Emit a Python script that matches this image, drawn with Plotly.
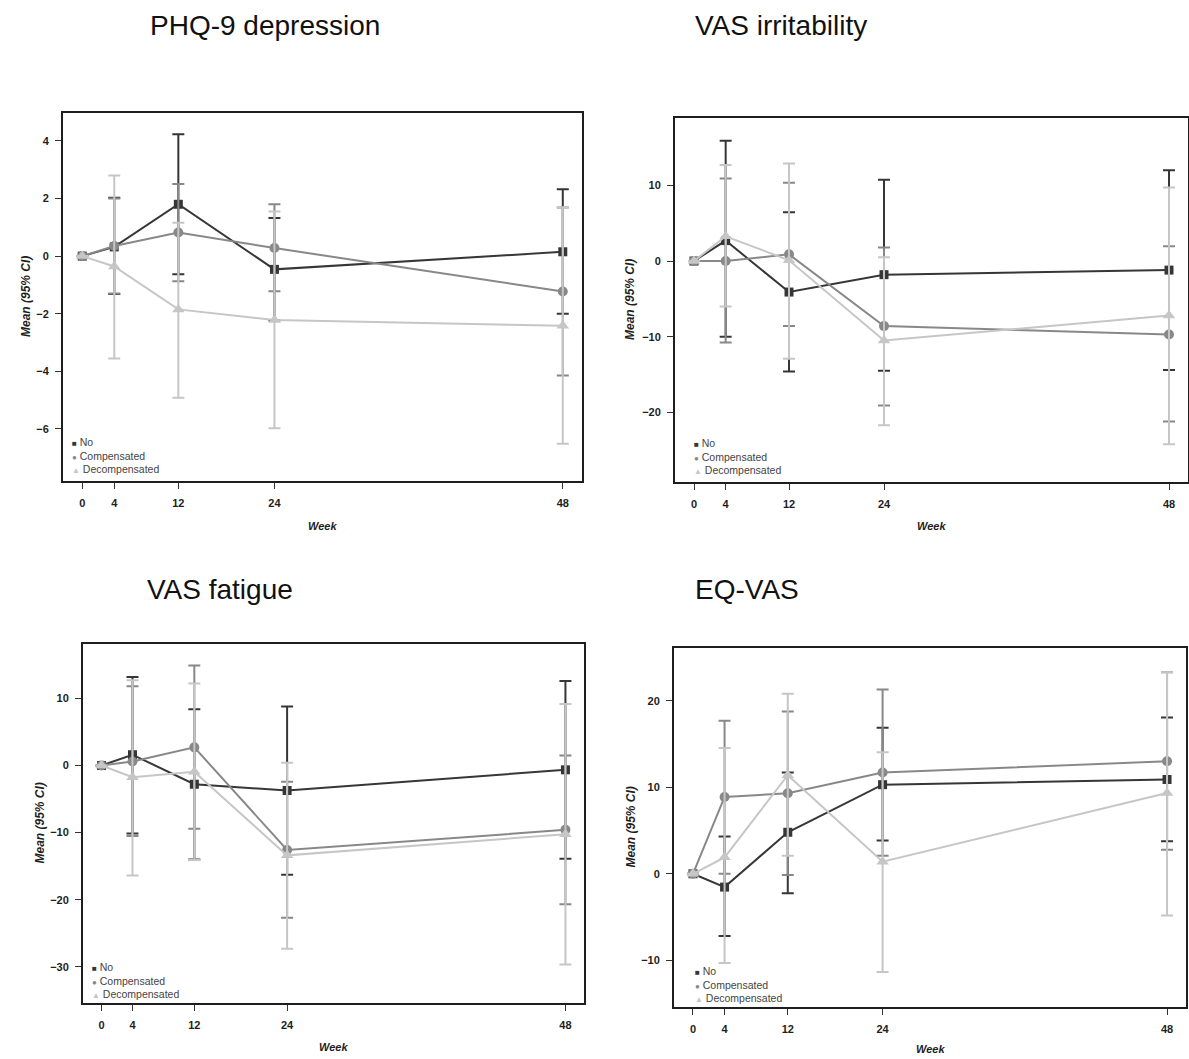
import plotly.graph_objects as go

# ---------------- data ----------------
week_labels = ["0", "4", "12", "24", "48"]
visit_scale = [0, 4, 12, 24, 60]   # x value at which each visit is plotted on the chart
groups = ["No", "Compensated", "Decompensated"]
panel_titles = ["PHQ-9 depression", "VAS irritability", "VAS fatigue", "EQ-VAS"]

# PHQ-9 depression
phq_no_mean = [0, 0.32, 1.80, -0.46, 0.15]
phq_no_lo = [0, -1.32, -0.63, -2.24, -2.00]
phq_no_hi = [0, 2.03, 4.23, 1.32, 2.32]
phq_comp_mean = [0, 0.35, 0.82, 0.28, -1.23]
phq_comp_lo = [0, -1.30, -0.87, -1.22, -4.15]
phq_comp_hi = [0, 2.00, 2.50, 1.80, 1.69]
phq_dec_mean = [0, -0.36, -1.85, -2.22, -2.42]
phq_dec_lo = [0, -3.56, -4.92, -5.98, -6.52]
phq_dec_hi = [0, 2.80, 1.16, 1.55, 1.70]

# VAS irritability
irr_no_mean = [0, 2.7, -4.1, -1.8, -1.2]
irr_no_lo = [0, -10.0, -14.6, -14.5, -14.4]
irr_no_hi = [0, 15.9, 6.46, 10.75, 12.0]
irr_comp_mean = [0, 0.0, 0.88, -8.6, -9.7]
irr_comp_lo = [0, -10.75, -8.6, -19.1, -21.2]
irr_comp_hi = [0, 10.9, 10.35, 1.8, 1.95]
irr_dec_mean = [0, 3.27, 0.1, -10.5, -7.2]
irr_dec_lo = [0, -6.0, -12.9, -21.7, -24.2]
irr_dec_hi = [0, 12.7, 12.9, 0.49, 9.7]

# VAS fatigue
fat_no_mean = [0, 1.6, -2.8, -3.73, -0.65]
fat_no_lo = [0, -10.15, -14.0, -16.3, -13.9]
fat_no_hi = [0, 13.2, 8.36, 8.8, 12.6]
fat_comp_mean = [0, 0.6, 2.7, -12.6, -9.6]
fat_comp_lo = [0, -10.5, -9.45, -22.7, -20.7]
fat_comp_hi = [0, 11.8, 14.9, -2.44, 1.5]
fat_dec_mean = [0, -1.74, -0.95, -13.4, -10.25]
fat_dec_lo = [0, -16.4, -14.1, -27.3, -29.65]
fat_dec_hi = [0, 12.7, 12.2, 0.4, 9.15]

# EQ-VAS
eq_no_mean = [0, -1.54, 4.8, 10.3, 10.9]
eq_no_lo = [0, -7.2, -2.24, 3.86, 3.75]
eq_no_hi = [0, 4.3, 11.7, 16.87, 18.07]
eq_comp_mean = [0, 8.88, 9.3, 11.7, 13.0]
eq_comp_lo = [0, 0.0, -0.15, 2.08, 2.78]
eq_comp_hi = [0, 17.7, 18.75, 21.3, 23.3]
eq_dec_mean = [0, 1.9, 11.4, 1.39, 9.34]
eq_dec_lo = [0, -10.3, 2.08, -11.35, -4.83]
eq_dec_hi = [0, 14.55, 20.8, 14.05, 23.3]

panels = [
    [(phq_no_mean, phq_no_lo, phq_no_hi), (phq_comp_mean, phq_comp_lo, phq_comp_hi), (phq_dec_mean, phq_dec_lo, phq_dec_hi)],
    [(irr_no_mean, irr_no_lo, irr_no_hi), (irr_comp_mean, irr_comp_lo, irr_comp_hi), (irr_dec_mean, irr_dec_lo, irr_dec_hi)],
    [(fat_no_mean, fat_no_lo, fat_no_hi), (fat_comp_mean, fat_comp_lo, fat_comp_hi), (fat_dec_mean, fat_dec_lo, fat_dec_hi)],
    [(eq_no_mean, eq_no_lo, eq_no_hi), (eq_comp_mean, eq_comp_lo, eq_comp_hi), (eq_dec_mean, eq_dec_lo, eq_dec_hi)],
]

# ---------------- styling ----------------
W, H = 1189, 1059
colors = ["#363636", "#888888", "#c6c6c6"]
symbols = ["square", "circle", "triangle-up"]
msizes = [9, 10, 11]
glyphs = ["\u25A0", "\u25CF", "\u25B2"]
FONT = "Liberation Sans, Arial, sans-serif"

# plot boxes in pixels: (left, right, top, bottom)
boxes = [(63, 582, 113, 481), (675, 1188, 118, 482), (83, 584, 644, 1003), (674, 1186, 648, 1007)]
yranges = [[-7.81, 4.97], [-29.2, 18.9], [-35.4, 18.1], [-15.4, 26.1]]
ydticks = [2, 10, 10, 10]
title_pos = [(148, 25), (693, 25), (145, 589), (693, 589)]
ylab_x = [26, 630, 39, 630]
week_y = [526, 526, 1047, 1049]
legend_pos = [(70, 455), (692, 456), (90, 980), (693, 984)]

fig = go.Figure()
layout = dict(width=W, height=H, margin=dict(l=0, r=0, t=0, b=0),
              paper_bgcolor="white", plot_bgcolor="white", showlegend=False,
              annotations=[])

for p in range(4):
    sfx = "" if p == 0 else str(p + 1)
    xa, ya = "x" + sfx, "y" + sfx
    for g in range(3):
        mean, lo, hi = panels[p][g]
        fig.add_trace(go.Scatter(
            x=visit_scale, y=mean, xaxis=xa, yaxis=ya, mode="lines+markers",
            name=groups[g],
            line=dict(color=colors[g], width=2),
            marker=dict(symbol=symbols[g], size=msizes[g], color=colors[g]),
            error_y=dict(type="data", symmetric=False,
                         array=[h - m for h, m in zip(hi, mean)],
                         arrayminus=[m - l for m, l in zip(mean, lo)],
                         color=colors[g], thickness=2, width=6),
        ))
    l, r, t, b = boxes[p]
    layout["xaxis" + sfx] = dict(
        domain=[l / W, r / W], anchor=ya, range=[-2.4, 62.4],
        tickmode="array", tickvals=visit_scale, ticktext=week_labels,
        ticks="outside", ticklen=6, tickwidth=1, tickcolor="#333",
        showline=True, mirror=True, linecolor="#1e1e1e", linewidth=2,
        showgrid=False, zeroline=False, ticklabelstandoff=5,
        tickfont=dict(family=FONT, size=11, color="#1e1e1e", weight="bold"))
    layout["yaxis" + sfx] = dict(
        domain=[1 - b / H, 1 - t / H], anchor=xa, range=yranges[p],
        dtick=ydticks[p], tick0=0,
        ticks="outside", ticklen=6, tickwidth=1, tickcolor="#333",
        showline=True, mirror=True, linecolor="#1e1e1e", linewidth=2,
        showgrid=False, zeroline=False, ticklabelstandoff=4,
        tickfont=dict(family=FONT, size=11, color="#1e1e1e", weight="bold"))
    # panel title
    tx, ty = title_pos[p]
    layout["annotations"].append(dict(
        text=panel_titles[p], xref="paper", yref="paper", x=tx / W, y=1 - ty / H,
        xanchor="left", yanchor="middle", showarrow=False,
        font=dict(family=FONT, size=28, color="#111")))
    # y axis title
    layout["annotations"].append(dict(
        text="Mean (95% CI)", xref="paper", yref="paper", x=ylab_x[p] / W,
        y=1 - ((t + b) / 2) / H, xanchor="center", yanchor="middle", textangle=-90,
        showarrow=False, font=dict(family=FONT, size=12, color="#1e1e1e", weight="bold", style="italic")))
    # x axis title
    layout["annotations"].append(dict(
        text="Week", xref="paper", yref="paper", x=((l + r) / 2) / W, y=1 - week_y[p] / H,
        xanchor="center", yanchor="middle", showarrow=False,
        font=dict(family=FONT, size=11, color="#1e1e1e", weight="bold", style="italic")))
    # legend (inside bottom-left)
    lx, ly = legend_pos[p]
    lines = [f'<span style="color:{colors[g]};font-size:8px">{glyphs[g]}</span> {groups[g]}' for g in range(3)]
    layout["annotations"].append(dict(
        text="<br>".join(lines), xref="paper", yref="paper", x=lx / W, y=1 - ly / H,
        xanchor="left", yanchor="middle", align="left", showarrow=False,
        font=dict(family=FONT, size=10.5, color="#444")))

fig.update_layout(**layout)
fig.write_html("out.html", config={"displayModeBar": False},
               post_script="document.body.style.margin='0';document.body.style.overflow='hidden';")
